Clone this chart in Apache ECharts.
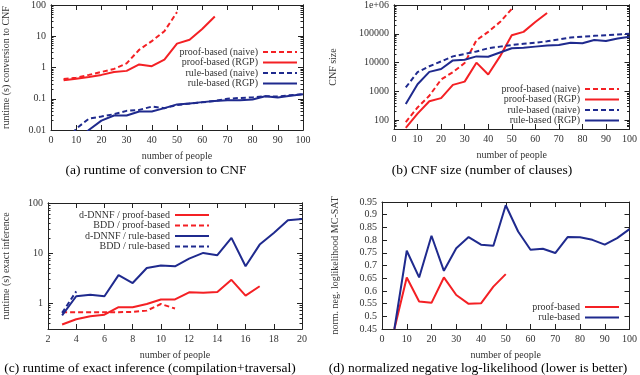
<!DOCTYPE html>
<html>
<head>
<meta charset="utf-8">
<script src="https://cdn.jsdelivr.net/npm/echarts@6/dist/echarts.min.js"></script>
<style>html,body{margin:0;padding:0;background:#fff}#main{width:640px;height:375px}</style>
</head>
<body>
<div id="main"></div>
<script>
// x values
var people5 = [5,10,15,20,25,30,35,40,45,50,55,60,65,70,75,80,85,90,95,100];
var people1 = [3,4,5,6,7,8,9,10,11,12,13,14,15,16,17,18,19,20];

// (a) runtime of conversion to CNF
var aProofNaive = [0.43,0.47,0.58,0.72,0.9,1.35,3.7,7,14.5,59];
var aProofRgp = [0.39,0.44,0.5,0.58,0.72,0.78,1.25,1.1,1.8,5.8,7.7,17,43];
var aRuleNaive = [0.003,0.011,0.023,0.027,0.032,0.041,0.044,0.056,0.05,0.063,0.07,0.077,0.085,0.1,0.106,0.11,0.12,0.118,0.13,0.14];
var aRuleRgp = [0.002,0.004,0.01,0.02,0.029,0.029,0.039,0.039,0.05,0.066,0.07,0.078,0.085,0.09,0.09,0.095,0.12,0.11,0.125,0.14];

// (b) CNF size
var bProofNaive = [87,280,710,2600,4700,9700,60000,117000,256000,730000];
var bProofRgp = [55,170,460,590,1700,2200,10000,3900,16500,89000,117000,256000,530000];
var bRuleNaive = [1380,4700,7500,11000,16500,20000,24500,31600,36000,41000,45000,49000,55000,64000,75000,79000,85000,90000,95000,100000];
var bRuleRgp = [370,1780,4800,6000,12000,12600,16500,16000,22500,31600,33000,36000,39000,41000,49000,47000,61000,56000,69000,79000];

// (c) runtime of exact inference
var cDnnfProof = [0.37,0.47,0.54,0.58,0.82,0.82,0.95,1.17,1.17,1.63,1.6,1.65,2.9,1.4,2.15];
var cBddProof = [0.65,0.65,0.65,0.65,0.65,0.66,0.7,0.95,0.77];
var cDnnfRule = [0.56,1.36,1.45,1.36,3.6,2.5,5,5.6,5.4,7.7,10,9,20,5.4,14.7,25,45,48];
var cBddRule = [0.63,1.7];

// (d) normalized negative log-likelihood
var dProof = [0.45,0.653,0.558,0.553,0.653,0.584,0.549,0.551,0.617,0.666];
var dRule = [0.45,0.758,0.653,0.817,0.679,0.768,0.812,0.782,0.778,0.937,0.834,0.762,0.766,0.749,0.812,0.811,0.801,0.782,0.808,0.843];

// tick labels
var aTicks = [0.01,0.1,1,10,100];
var bTicks = [100,1000,10000,100000,1000000];
var cTicks = [1,10,100];

var RED = '#f42024', BLUE = '#1f2a8e', INK = '#222', TXT = '#333';
var FONT = "'Liberation Serif','DejaVu Serif',serif";

function minorsFor(from, to, lo, hi) {
    var out = [];
    for (var d = from; d <= to; d *= 10)
        for (var k = 2; k <= 9; k++) {
            var v = +(k * d).toPrecision(6);
            if (v > lo && v < hi) out.push(v);
        }
    return out;
}

function pairs(xs, ys) {
    return ys.map(function (v, i) { return [xs[i], v]; });
}

function fmtNum(v) {
    if (v >= 1e6) return '1e+06';
    return String(+v.toPrecision(6));
}

var lbl = { fontFamily: FONT, fontSize: 10, color: TXT };
var axLine = { show: true, onZero: false, lineStyle: { color: INK, width: 1 } };

var xAxes = [], yAxes = [];

function tick(len, vals) {
    var t = { show: true, inside: true, length: len, lineStyle: { color: INK, width: 1 } };
    if (vals) t.customValues = vals;
    return t;
}

function addX(g, min, max, interval, gap) {
    var base = {
        type: 'value', gridIndex: g, min: min, max: max, interval: interval,
        splitLine: { show: false }, axisLine: axLine, axisTick: tick(5)
    };
    xAxes.push(Object.assign({}, base, {
        position: 'bottom',
        name: 'number of people', nameLocation: 'middle', nameGap: gap,
        nameTextStyle: lbl,
        axisLabel: Object.assign({ margin: 5 }, lbl)
    }));
    xAxes.push(Object.assign({}, base, { position: 'top', axisLabel: { show: false } }));
    return xAxes.length - 2;
}

function addLogY(g, min, max, ticks, minors, name, gap) {
    var base = {
        type: 'log', logBase: 10, gridIndex: g, min: min, max: max,
        splitLine: { show: false }, axisLine: axLine
    };
    var idx = yAxes.length;
    yAxes.push(Object.assign({}, base, {
        position: 'left',
        name: name, nameLocation: 'middle', nameGap: gap, nameTextStyle: lbl,
        axisTick: tick(5, ticks),
        axisLabel: Object.assign({ margin: 5, customValues: ticks, formatter: fmtNum }, lbl)
    }));
    yAxes.push(Object.assign({}, base, {
        position: 'right', axisTick: tick(5, ticks), axisLabel: { show: false }
    }));
    yAxes.push(Object.assign({}, base, {
        position: 'left', axisTick: tick(2.5, minors), axisLabel: { show: false }
    }));
    yAxes.push(Object.assign({}, base, {
        position: 'right', axisTick: tick(2.5, minors), axisLabel: { show: false }
    }));
    return idx;
}

function addLinY(g, min, max, interval, name, gap) {
    var base = {
        type: 'value', gridIndex: g, min: min, max: max, interval: interval,
        splitLine: { show: false }, axisLine: axLine, axisTick: tick(5)
    };
    var idx = yAxes.length;
    yAxes.push(Object.assign({}, base, {
        position: 'left',
        name: name, nameLocation: 'middle', nameGap: gap, nameTextStyle: lbl,
        axisLabel: Object.assign({ margin: 5 }, lbl)
    }));
    yAxes.push(Object.assign({}, base, { position: 'right', axisLabel: { show: false } }));
    return idx;
}

var grids = [
    { left: 51, right: 337, top: 4, bottom: 245 },
    { left: 394, right: 8, top: 4, bottom: 246 },
    { left: 47, right: 338, top: 203, bottom: 46 },
    { left: 382, right: 8, top: 202, bottom: 46 }
];

var xa = addX(0, 0, 100, 10, 21);
var ya = addLogY(0, 0.01, 100, aTicks, minorsFor(0.01, 10, 0.01, 100), 'runtime (s) conversion to CNF', 40);
var xb = addX(1, 0, 100, 10, 21);
var yb = addLogY(1, 50, 1000000, bTicks, minorsFor(10, 100000, 50, 1000000), 'CNF size', 56);
var xc = addX(2, 2, 20, 2, 21);
var yc = addLogY(2, 0.3, 100, cTicks, minorsFor(0.1, 10, 0.3, 100), 'runtime (s) exact inference', 37);
var xd = addX(3, 0, 100, 10, 21);
var yd = addLinY(3, 0.45, 0.95, 0.05, 'norm. neg. loglikelihood MC-SAT', 42);

function line(name, xi, yi, data, color, dashed) {
    return {
        name: name, type: 'line', xAxisIndex: xi, yAxisIndex: yi, data: data,
        symbol: 'none', showSymbol: false, clip: true, animation: false,
        lineStyle: { color: color, width: 2, type: dashed ? [5, 3] : 'solid' },
        itemStyle: { color: color }
    };
}

var series = [
    line('proof-based (naive)', xa, ya, pairs(people5, aProofNaive), RED, true),
    line('proof-based (RGP)', xa, ya, pairs(people5, aProofRgp), RED, false),
    line('rule-based (naive)', xa, ya, pairs(people5, aRuleNaive), BLUE, true),
    line('rule-based (RGP)', xa, ya, pairs(people5, aRuleRgp), BLUE, false),

    line('proof-based (naive)', xb, yb, pairs(people5, bProofNaive), RED, true),
    line('proof-based (RGP)', xb, yb, pairs(people5, bProofRgp), RED, false),
    line('rule-based (naive)', xb, yb, pairs(people5, bRuleNaive), BLUE, true),
    line('rule-based (RGP)', xb, yb, pairs(people5, bRuleRgp), BLUE, false),

    line('d-DNNF / proof-based', xc, yc, pairs(people1, cDnnfProof), RED, false),
    line('BDD / proof-based', xc, yc, pairs(people1, cBddProof), RED, true),
    line('d-DNNF / rule-based', xc, yc, pairs(people1, cDnnfRule), BLUE, false),
    line('BDD / rule-based', xc, yc, pairs(people1, cBddRule), BLUE, true),

    line('proof-based', xd, yd, pairs(people5, dProof), RED, false),
    line('rule-based', xd, yd, pairs(people5, dRule), BLUE, false)
];

function legend(names, right, top) {
    return {
        data: names, orient: 'vertical', align: 'right', right: right, top: top,
        padding: 0, itemGap: 0.5, itemWidth: 34, itemHeight: 10,
        selectedMode: false,
        itemStyle: { opacity: 0 },
        textStyle: { fontFamily: FONT, fontSize: 10, color: TXT, lineHeight: 10 }
    };
}

function caption(text, cx, top) {
    return {
        text: text, left: cx, top: top, textAlign: 'center', padding: 0,
        textStyle: { fontFamily: FONT, fontSize: 13.5, fontWeight: 'normal', color: '#000' }
    };
}

var myChart = echarts.init(document.getElementById('main'));
option = {
    backgroundColor: '#fff',
    animation: false,
    title: [
        caption('(a) runtime of conversion to CNF', 156, 163),
        caption('(b) CNF size (number of clauses)', 482, 163),
        caption('(c) runtime of exact inference (compilation+traversal)', 150, 361),
        caption('(d) normalized negative log-likelihood (lower is better)', 478, 361)
    ],
    legend: [
        legend(['proof-based (naive)', 'proof-based (RGP)', 'rule-based (naive)', 'rule-based (RGP)'], 342, 47),
        legend(['proof-based (naive)', 'proof-based (RGP)', 'rule-based (naive)', 'rule-based (RGP)'], 20, 84),
        legend(['d-DNNF / proof-based', 'BDD / proof-based', 'd-DNNF / rule-based', 'BDD / rule-based'], 430, 210),
        legend(['proof-based', 'rule-based'], 20, 302)
    ],
    grid: grids,
    xAxis: xAxes,
    yAxis: yAxes,
    series: series
};
myChart.setOption(option);
</script>
</body>
</html>
